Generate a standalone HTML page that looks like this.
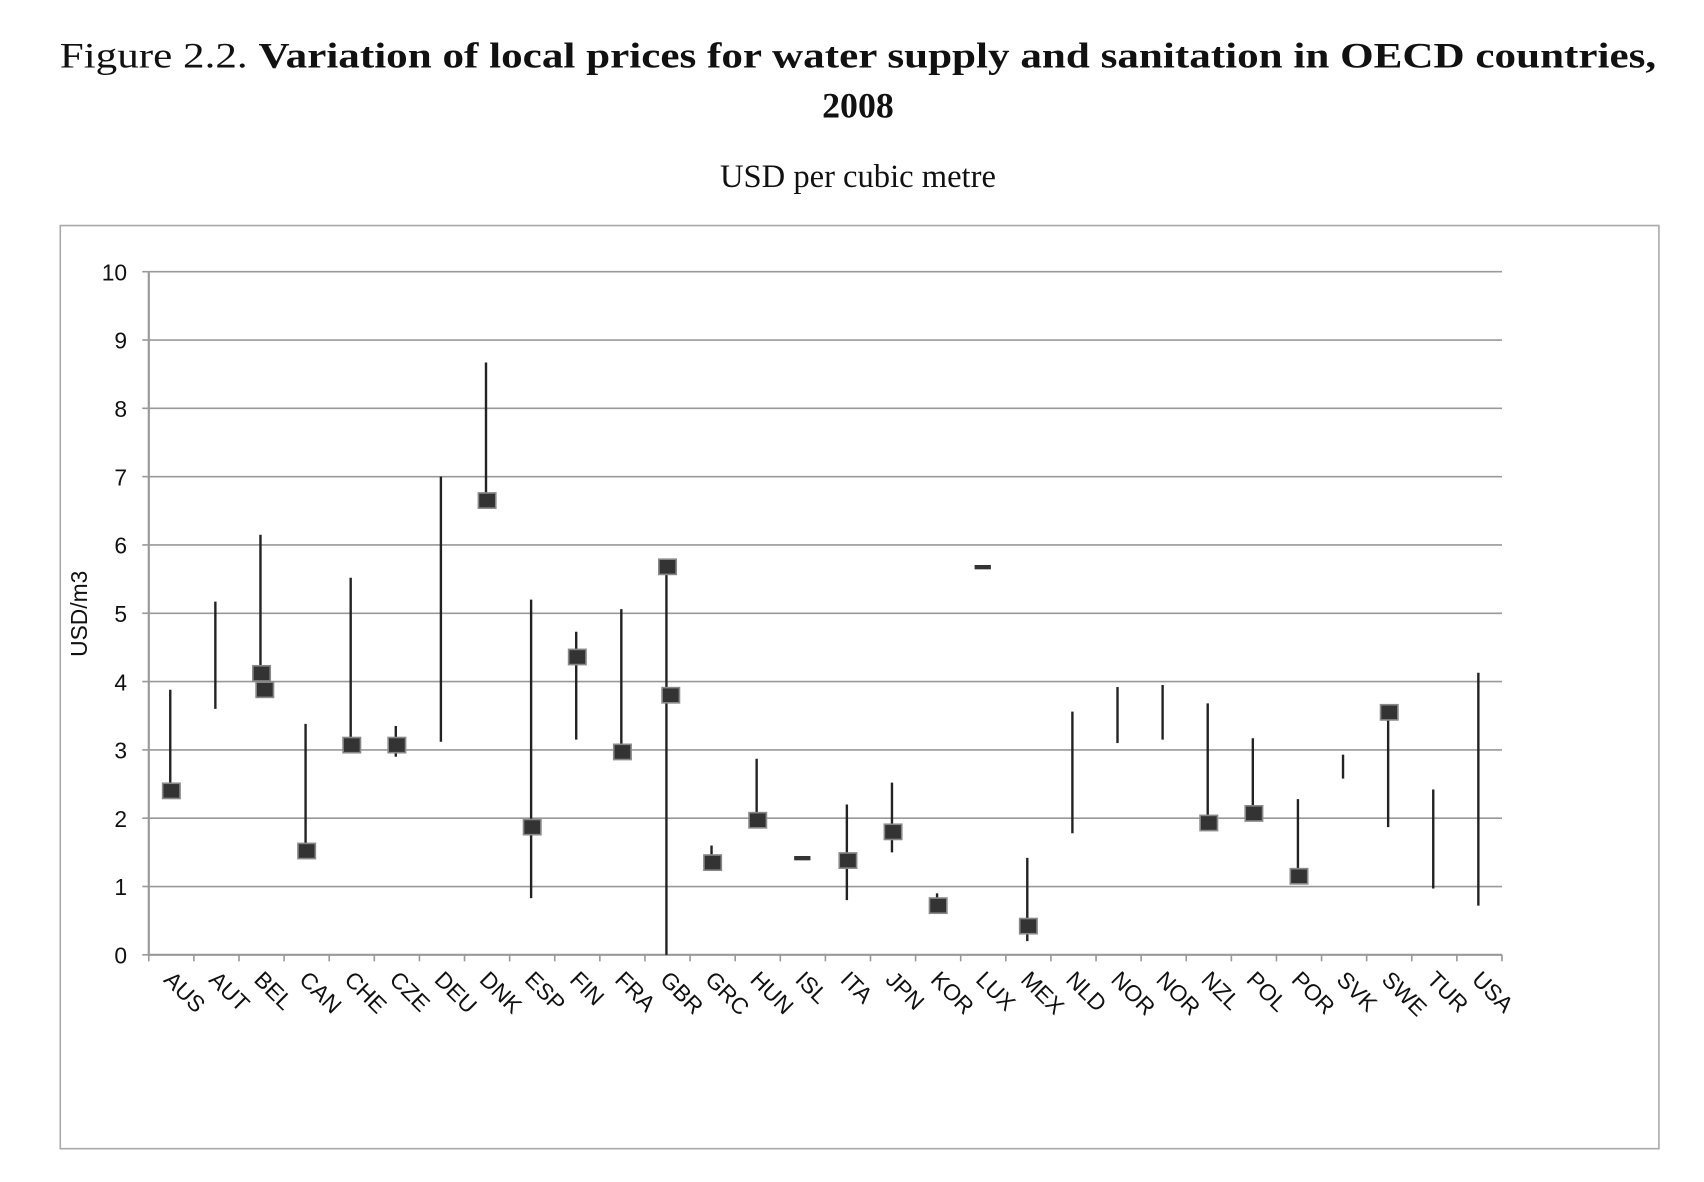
<!DOCTYPE html>
<html><head><meta charset="utf-8"><style>
html,body{margin:0;padding:0;background:#fff;}
svg{display:block;}
</style></head><body>
<svg id="chart" width="1704" height="1182" viewBox="0 0 1569 1088" xmlns="http://www.w3.org/2000/svg">
<text x="790" y="62" text-anchor="middle" font-family="Liberation Serif, serif" font-size="33" fill="#111" textLength="1470" lengthAdjust="spacingAndGlyphs">Figure 2.2. <tspan font-weight="bold">Variation of local prices for water supply and sanitation in OECD countries,</tspan></text>
<text x="790" y="108" text-anchor="middle" font-family="Liberation Serif, serif" font-size="33" font-weight="bold" fill="#111">2008</text>
<text x="790" y="172" text-anchor="middle" font-family="Liberation Serif, serif" font-size="30" fill="#111">USD per cubic metre</text>
<rect x="55.5" y="207.5" width="1472" height="850" fill="none" stroke="#aaa" stroke-width="1.5"/>
<text transform="translate(80,565) rotate(-90)" text-anchor="middle" font-family="Liberation Sans, sans-serif" font-size="21" fill="#111">USD/m3</text>
<g id="grid"></g><g id="axes"></g><g id="marks"></g>
</svg>
<script>
const categories=["AUS","AUT","BEL","CAN","CHE","CZE","DEU","DNK","ESP","FIN","FRA","GBR","GRC","HUN","ISL","ITA","JPN","KOR","LUX","MEX","NLD","NOR","NOR","NZL","POL","POR","SVK","SWE","TUR","USA"];
const lowValues=[2.4,3.6,3.9,1.52,3.07,2.9,3.12,6.65,0.83,3.15,2.97,0,1.35,1.97,1.38,0.8,1.5,0.7,5.65,0.2,1.78,3.1,3.15,1.93,2.07,1.15,2.58,1.87,0.97,0.72];
const highValues=[3.88,5.17,6.15,3.38,5.52,3.35,7.0,8.67,5.2,4.73,5.06,5.68,1.6,2.87,1.45,2.2,2.52,0.9,5.7,1.42,3.56,3.92,3.95,3.68,3.17,2.28,2.93,3.55,2.42,4.13];
const markerValues=[[2.4],[],[4.12,3.88],[1.52],[3.07],[3.07],[],[6.65],[1.87],[4.36],[2.97],[5.68,3.8],[1.35],[1.97],[],[1.38],[1.8],[0.72],[],[0.42],[],[],[],[1.93],[2.07],[1.15],[],[3.55],[],[]];
const dashCats=["ISL","LUX"];
const yTicks=[0,1,2,3,4,5,6,7,8,9,10];
const NS="http://www.w3.org/2000/svg";
const X0=137,X1=1383,Y0=879,Y10=250;
const y=v=>Y0-(v/10)*(Y0-Y10);
const bw=(X1-X0)/categories.length;
const xc=i=>X0+bw*(i+0.5);
function mk(t,a,p){const e=document.createElementNS(NS,t);for(const k in a)e.setAttribute(k,a[k]);p.appendChild(e);return e;}
const grid=document.getElementById('grid'),axes=document.getElementById('axes'),marks=document.getElementById('marks');
yTicks.forEach(t=>{
  if(t>0){const g=mk('line',{x1:X0,x2:X1,y1:y(t),y2:y(t),stroke:'#999','stroke-width':1.5},grid);
  
  }
  const tk=mk('line',{x1:X0-6,x2:X0,y1:y(t),y2:y(t),stroke:'#999','stroke-width':1.5},axes);
  
  
  const l=mk('text',{x:X0-20,y:y(t)+8,'text-anchor':'end','font-family':'Liberation Sans, sans-serif','font-size':21,fill:'#111'},axes);
  l.textContent=t;
  
  
});
const ya=mk('line',{x1:X0,x2:X0,y1:Y10,y2:Y0,stroke:'#999','stroke-width':2},axes);


const xa=mk('line',{x1:X0,x2:X1,y1:Y0,y2:Y0,stroke:'#999','stroke-width':2},axes);


for(let i=0;i<=categories.length;i++){
  const tk=mk('line',{x1:X0+bw*i,x2:X0+bw*i,y1:Y0,y2:Y0+6,stroke:'#999','stroke-width':1.5},axes);
  
  
}
categories.forEach((c,i)=>{
  const l=mk('text',{transform:`translate(${xc(i)-8},${Y0+24}) rotate(45)`,'font-family':'Liberation Sans, sans-serif','font-size':21,fill:'#111'},axes);
  l.textContent=c;
  
  
  const cx=xc(i)-1;
  if(dashCats.includes(c)){
    const d=mk('rect',{x:cx-7,y:(y(lowValues[i])+y(highValues[i]))/2-2,width:15,height:4,fill:'#333'},marks);
    
    
  } else {
    const ln=mk('line',{x1:cx,x2:cx,y1:y(lowValues[i]),y2:y(highValues[i]),stroke:'#222','stroke-width':2.2},marks);
    
    
  }
  markerValues[i].forEach((v,j)=>{
    const r=mk('rect',{x:cx-7+j*3,y:y(v)-7,width:16,height:14,fill:'#333',stroke:'#888','stroke-width':1.5},marks);
    
    
  });
});
</script>
</body></html>
